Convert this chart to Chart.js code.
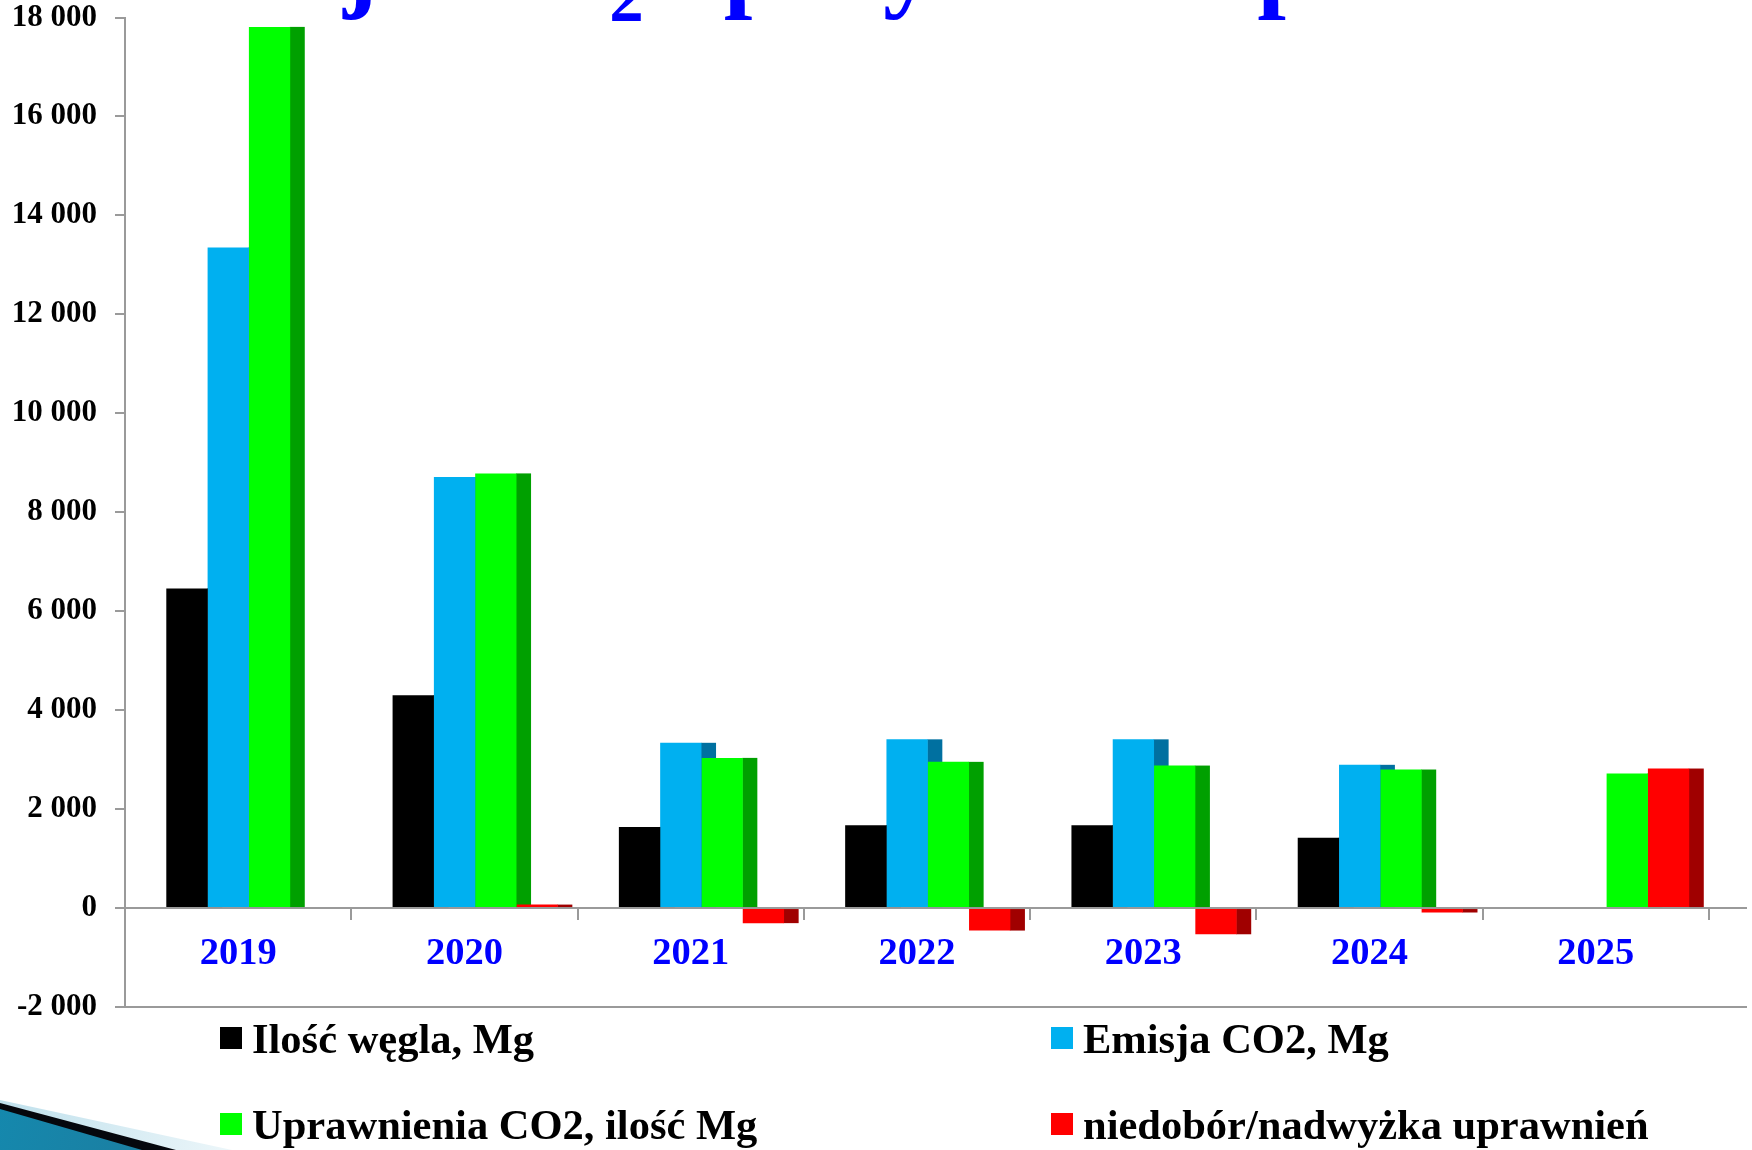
<!DOCTYPE html>
<html>
<head>
<meta charset="utf-8">
<script src="https://cdn.jsdelivr.net/npm/chart.js@4.4.1/dist/chart.umd.min.js"></script>
<style>
  html, body { margin: 0; padding: 0; background: #fff; overflow: hidden; }
  #wrap { position: relative; width: 1752px; height: 1150px; }
  #legend {
    position: absolute; left: 220px; top: 995px;
    display: grid; grid-template-columns: 831px auto; grid-auto-rows: 86px; align-items: center;
    font: bold 42.5px "Liberation Serif", "Times New Roman", serif; color: #000;
  }
  .item { display: flex; align-items: center; white-space: nowrap; }
  .box { width: 22px; height: 22px; margin-right: 10px; flex: none; }
</style>
</head>
<body>
<div id="wrap">
  <canvas id="chart" width="1752" height="1150"></canvas>
  <div id="legend"></div>
</div>
<script>
// data
var years = ['2019', '2020', '2021', '2022', '2023', '2024', '2025'];
var coal = [6460, 4300, 1640, 1675, 1675, 1420, null];
var emission = [13350, 8710, 3340, 3410, 3410, 2895, null];
var allowances = [17810, 8785, 3035, 2955, 2880, 2800, 2720];
var balance = [null, 70, -305, -455, -530, -90, 2820];

var seriesNames = ['Ilość węgla, Mg', 'Emisja CO2, Mg', 'Uprawnienia CO2, ilość Mg', 'niedobór/nadwyżka uprawnień'];
var frontColors = ['#000000', '#00B0F0', '#00FF00', '#FF0000'];
var sideColors = ['#1a1a1a', '#0070A0', '#00A000', '#A00000'];

var yMin = -2000, yMax = 18000, yStep = 2000;
var titleParts = ['Emisja CO', '2', ' i ', 'przydział uprawnień'];

var serif = '"Liberation Serif", "Times New Roman", serif';
var axisGrey = '#9a9a9a';

// groups sit a bit right of centre and every bar has a darker side face
var groupShift = 0.0475;
var depthRatio = 0.353;

function fmt(v) {
  return String(v).replace(/\B(?=(\d{3})+(?!\d))/g, ' ');
}

var pseudo3d = {
  id: 'pseudo3d',
  afterDatasetsUpdate: function (chart) {
    var xs = chart.scales.x;
    var shift = xs.width / years.length * groupShift;
    chart.getSortedVisibleDatasetMetas().forEach(function (meta) {
      meta.data.forEach(function (bar) { bar.x += shift; });
    });
  },
  beforeDatasetsDraw: function (chart) {
    var ctx = chart.ctx, area = chart.chartArea, y = chart.scales.y;
    var ext = 38;
    ctx.save();
    // bottom frame line and the zero line running past the last category
    ctx.strokeStyle = axisGrey;
    ctx.lineWidth = 2;
    ctx.beginPath();
    ctx.moveTo(area.left, y.getPixelForValue(yMin));
    ctx.lineTo(area.right + ext, y.getPixelForValue(yMin));
    ctx.moveTo(area.right, y.getPixelForValue(0));
    ctx.lineTo(area.right + ext, y.getPixelForValue(0));
    ctx.stroke();
    // side faces, the next bar's front covers what should be hidden
    chart.getSortedVisibleDatasetMetas().forEach(function (meta) {
      ctx.fillStyle = sideColors[meta.index];
      meta.data.forEach(function (bar) {
        var p = bar.getProps(['x', 'y', 'base', 'width'], true);
        if (bar.skip || !isFinite(p.y) || p.y === p.base) return;
        ctx.fillRect(p.x + p.width / 2 - 0.5, Math.min(p.y, p.base), p.width * depthRatio + 0.5, Math.abs(p.base - p.y));
      });
    });
    ctx.restore();
  },
  afterDraw: function (chart) {
    var ctx = chart.ctx;
    ctx.save();
    // title of the slide, only its lower edge shows
    ctx.fillStyle = '#0000FF';
    ctx.textBaseline = 'alphabetic';
    var x = 120, base = -2;
    ctx.font = 'bold 103px ' + serif;
    ctx.fillText(titleParts[0], x, base);
    x += ctx.measureText(titleParts[0]).width;
    ctx.font = 'bold 69px ' + serif;
    ctx.fillText(titleParts[1], x, base + 23);
    x += ctx.measureText(titleParts[1]).width;
    ctx.font = 'bold 103px ' + serif;
    ctx.fillText(titleParts[2], x, base);
    x += ctx.measureText(titleParts[2]).width;
    ctx.letterSpacing = '3.5px';
    ctx.fillText(titleParts[3], x, base);
    ctx.letterSpacing = '0px';

    // template corner in the bottom left
    var g = ctx.createLinearGradient(0, 1100, 240, 1150);
    g.addColorStop(0, '#bfe0ec');
    g.addColorStop(1, '#eef7fa');
    ctx.fillStyle = g;
    ctx.beginPath();
    ctx.moveTo(0, 1100); ctx.lineTo(232, 1150); ctx.lineTo(0, 1150); ctx.closePath();
    ctx.fill();
    ctx.fillStyle = '#05070d';
    ctx.beginPath();
    ctx.moveTo(0, 1103); ctx.lineTo(176, 1150); ctx.lineTo(0, 1150); ctx.closePath();
    ctx.fill();
    var t = ctx.createLinearGradient(0, 1110, 140, 1150);
    t.addColorStop(0, '#1588ad');
    t.addColorStop(1, '#1b7fa2');
    ctx.fillStyle = t;
    ctx.beginPath();
    ctx.moveTo(0, 1109); ctx.lineTo(142, 1150); ctx.lineTo(0, 1150); ctx.closePath();
    ctx.fill();
    ctx.restore();
  }
};

var seriesData = [coal, emission, allowances, balance];
var datasets = seriesData.map(function (d, i) {
  return {
    label: seriesNames[i],
    data: d,
    backgroundColor: frontColors[i],
    borderWidth: 0,
    categoryPercentage: 0.73,
    barPercentage: 1.0
  };
});

new Chart(document.getElementById('chart'), {
  type: 'bar',
  data: { labels: years, datasets: datasets },
  options: {
    responsive: false,
    devicePixelRatio: 1,
    animation: false,
    layout: { padding: { top: 17.5, right: 43, bottom: 143, left: 0 } },
    plugins: { legend: { display: false }, tooltip: { enabled: false } },
    scales: {
      x: {
        position: { y: 0 },
        offset: true,
        afterFit: function (scale) { scale.paddingTop = 0; scale.paddingBottom = 0; },
        grid: { offset: true, drawOnChartArea: false, drawTicks: true, tickLength: 11, color: axisGrey, lineWidth: 2 },
        border: { display: true, color: axisGrey, width: 2 },
        ticks: { color: '#0000FF', padding: 16, font: { family: serif, size: 38.5, weight: 'bold', lineHeight: 1 } }
      },
      y: {
        min: yMin,
        max: yMax,
        afterFit: function (scale) {
          scale.width = 125;
          scale.paddingTop = 0;
          scale.paddingBottom = 0;
        },
        grid: { drawOnChartArea: false, tickLength: 10, color: axisGrey, lineWidth: 2 },
        border: { display: true, color: axisGrey, width: 2 },
        ticks: {
          stepSize: yStep,
          padding: 18,
          color: '#000',
          font: { family: serif, size: 31, weight: 'bold', lineHeight: 1 },
          callback: function (v) { return fmt(v); }
        }
      }
    }
  },
  plugins: [pseudo3d]
});

// legend laid out in two fixed columns like on the slide
var legend = document.getElementById('legend');
seriesNames.forEach(function (name, i) {
  var item = document.createElement('div');
  item.className = 'item';
  var box = document.createElement('span');
  box.className = 'box';
  box.style.background = frontColors[i];
  var txt = document.createElement('span');
  txt.textContent = name;
  item.appendChild(box);
  item.appendChild(txt);
  legend.appendChild(item);
});
</script>
</body>
</html>
